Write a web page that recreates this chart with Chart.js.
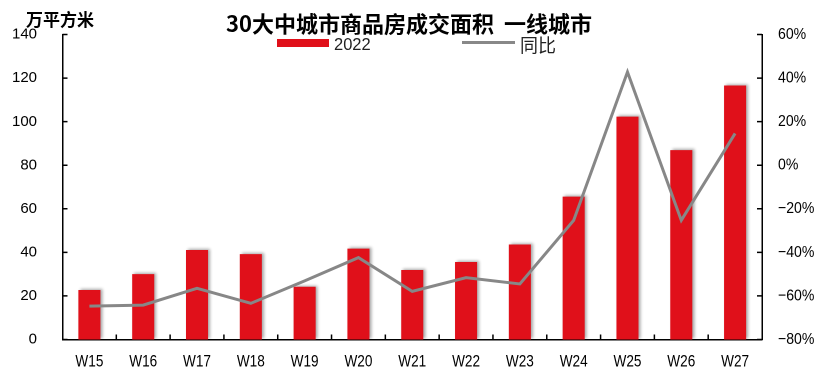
<!DOCTYPE html>
<html>
<head>
<meta charset="utf-8">
<script src="https://cdn.jsdelivr.net/npm/chart.js@4"></script>
<style>
  html, body { margin: 0; padding: 0; background: #fff; }
  #frame { position: relative; width: 815px; height: 367px; overflow: hidden; }
  /* a little taller than the frame: the space reserved under the x axis hangs below */
  #chartBox { position: absolute; left: 0; top: 0; width: 815px; height: 374px; }
  .txt { position: absolute; white-space: pre; color: #000; font-family: "Noto Sans CJK SC", sans-serif; }
  #unit { left: 26px; top: 10px; font-size: 17px; line-height: 17px; font-weight: bold; }
  #title { left: 226px; top: 11px; font-size: 22px; line-height: 22px; font-weight: bold; }
  .swatch { position: absolute; }
  #swBar { left: 277px; top: 39px; width: 52px; height: 8px; background: #e0101a; }
  #swLine { left: 462px; top: 41px; width: 53px; height: 3px; background: #888; }
  #lgBar { left: 334px; top: 36px; font-size: 16.5px; line-height: 16px; color: #222;
           font-family: "Liberation Sans", Arial, sans-serif; }
  #lgLine { left: 520px; top: 34.5px; font-size: 18px; line-height: 18px; color: #222; }
</style>
</head>
<body>
<div id="frame">
  <div id="chartBox"><canvas id="areaChart"></canvas></div>
  <div class="txt" id="unit">万平方米</div>
  <div class="txt" id="title">30大中城市商品房成交面积  一线城市</div>
  <div class="swatch" id="swBar"></div>
  <div class="txt" id="lgBar">2022</div>
  <div class="swatch" id="swLine"></div>
  <div class="txt" id="lgLine">同比</div>
</div>
<script>
const weeks = ['W15', 'W16', 'W17', 'W18', 'W19', 'W20', 'W21', 'W22', 'W23', 'W24', 'W25', 'W26', 'W27'];
const area2022 = [22.7, 30, 41.1, 39.2, 24.2, 41.7, 31.9, 35.6, 43.6, 65.6, 102.3, 86.9, 116.6];
const yoyPct = [-64.7, -64.2, -56.5, -63.4, -53.1, -42.4, -57.9, -51.6, -54.5, -25.3, 42.8, -25.3, 14.6];

const sansFamily = "'Liberation Sans', Arial, sans-serif";
const fmtPct = v => (v < 0 ? '\u2212' + Math.abs(v) : v) + '%';

// small tick marks pointing into the plot
const innerTicks = {
    id: 'innerTicks',
    afterDatasetsDraw(chart) {
        const ctx = chart.ctx;
        const area = chart.chartArea;
        const x = chart.scales.x, y = chart.scales.y, y1 = chart.scales.y1;
        ctx.save();
        ctx.strokeStyle = '#000';
        ctx.lineWidth = 1.5;
        ctx.beginPath();
        y.ticks.forEach(t => {
            const py = y.getPixelForValue(t.value);
            ctx.moveTo(area.left, py);
            ctx.lineTo(area.left + 5, py);
        });
        y1.ticks.forEach(t => {
            const py = y1.getPixelForValue(t.value);
            ctx.moveTo(area.right, py);
            ctx.lineTo(area.right - 5, py);
        });
        for (let i = 1; i < weeks.length; i++) {
            const px = (x.getPixelForValue(i - 1) + x.getPixelForValue(i)) / 2;
            ctx.moveTo(px, area.bottom);
            ctx.lineTo(px, area.bottom - 5);
        }
        ctx.stroke();
        ctx.restore();
    }
};

// week labels and percent labels use a narrow face, so squeeze them horizontally
const narrowLabels = {
    id: 'narrowLabels',
    afterDraw(chart) {
        const ctx = chart.ctx;
        const area = chart.chartArea;
        const x = chart.scales.x, y1 = chart.scales.y1;
        ctx.save();
        ctx.fillStyle = '#000';

        ctx.font = '17px ' + sansFamily;
        ctx.textAlign = 'center';
        ctx.textBaseline = 'alphabetic';
        x.ticks.forEach((t, i) => {
            ctx.save();
            ctx.translate(x.getPixelForTick(i), area.bottom + 27);
            ctx.scale(0.8, 1);
            ctx.fillText(x.getLabelForValue(t.value), 0, 0);
            ctx.restore();
        });

        ctx.font = '16px ' + sansFamily;
        ctx.textAlign = 'left';
        ctx.textBaseline = 'middle';
        y1.ticks.forEach(t => {
            ctx.save();
            ctx.translate(area.right + 16, y1.getPixelForValue(t.value));
            ctx.scale(0.88, 1);
            ctx.fillText(fmtPct(t.value), 0, 0);
            ctx.restore();
        });
        ctx.restore();
    }
};

// soft grey shadow behind the bars
const barShadow = {
    id: 'barShadow',
    beforeDatasetDraw(chart, args) {
        if (args.meta.type !== 'bar') return;
        const ctx = chart.ctx;
        ctx.save();
        ctx.shadowColor = 'rgba(0, 0, 0, 0.35)';
        ctx.shadowBlur = 6;
        ctx.shadowOffsetX = 4;
        ctx.shadowOffsetY = -2;
    },
    afterDatasetDraw(chart, args) {
        if (args.meta.type !== 'bar') return;
        chart.ctx.restore();
    }
};

new Chart(document.getElementById('areaChart').getContext('2d'), {
    data: {
        labels: weeks,
        datasets: [
            {
                type: 'line',
                label: '同比',
                data: yoyPct,
                yAxisID: 'y1',
                borderColor: '#878787',
                borderWidth: 3,
                pointRadius: 0,
                tension: 0,
                order: 0
            },
            {
                type: 'bar',
                label: '2022',
                data: area2022,
                yAxisID: 'y',
                backgroundColor: '#e0101a',
                borderWidth: 0,
                barPercentage: 0.41,
                categoryPercentage: 1,
                order: 1
            }
        ]
    },
    options: {
        responsive: true,
        maintainAspectRatio: false,
        animation: false,
        devicePixelRatio: 2,
        layout: { padding: { top: 34.5, left: 0, right: 0, bottom: 0 } },
        plugins: {
            legend: { display: false },
            title: { display: false },
            tooltip: { enabled: false }
        },
        scales: {
            x: {
                grid: { display: false, drawTicks: false },
                border: { display: true, color: '#000', width: 1.5 },
                ticks: { display: false },
                afterFit(scale) { scale.height = 28.7; }
            },
            y: {
                position: 'left',
                min: 0,
                max: 140,
                grid: { display: false, drawTicks: false },
                border: { display: true, color: '#000', width: 1.5 },
                ticks: { stepSize: 20, color: '#000', font: { family: sansFamily, size: 15 }, padding: 25.5 },
                afterFit(scale) { scale.width = 62.5; }
            },
            y1: {
                position: 'right',
                min: -80,
                max: 60,
                grid: { display: false, drawTicks: false },
                border: { display: true, color: '#000', width: 1.5 },
                ticks: { stepSize: 20, display: false },
                afterFit(scale) { scale.width = 53; }
            }
        }
    },
    plugins: [innerTicks, narrowLabels, barShadow]
});
</script>
</body>
</html>
